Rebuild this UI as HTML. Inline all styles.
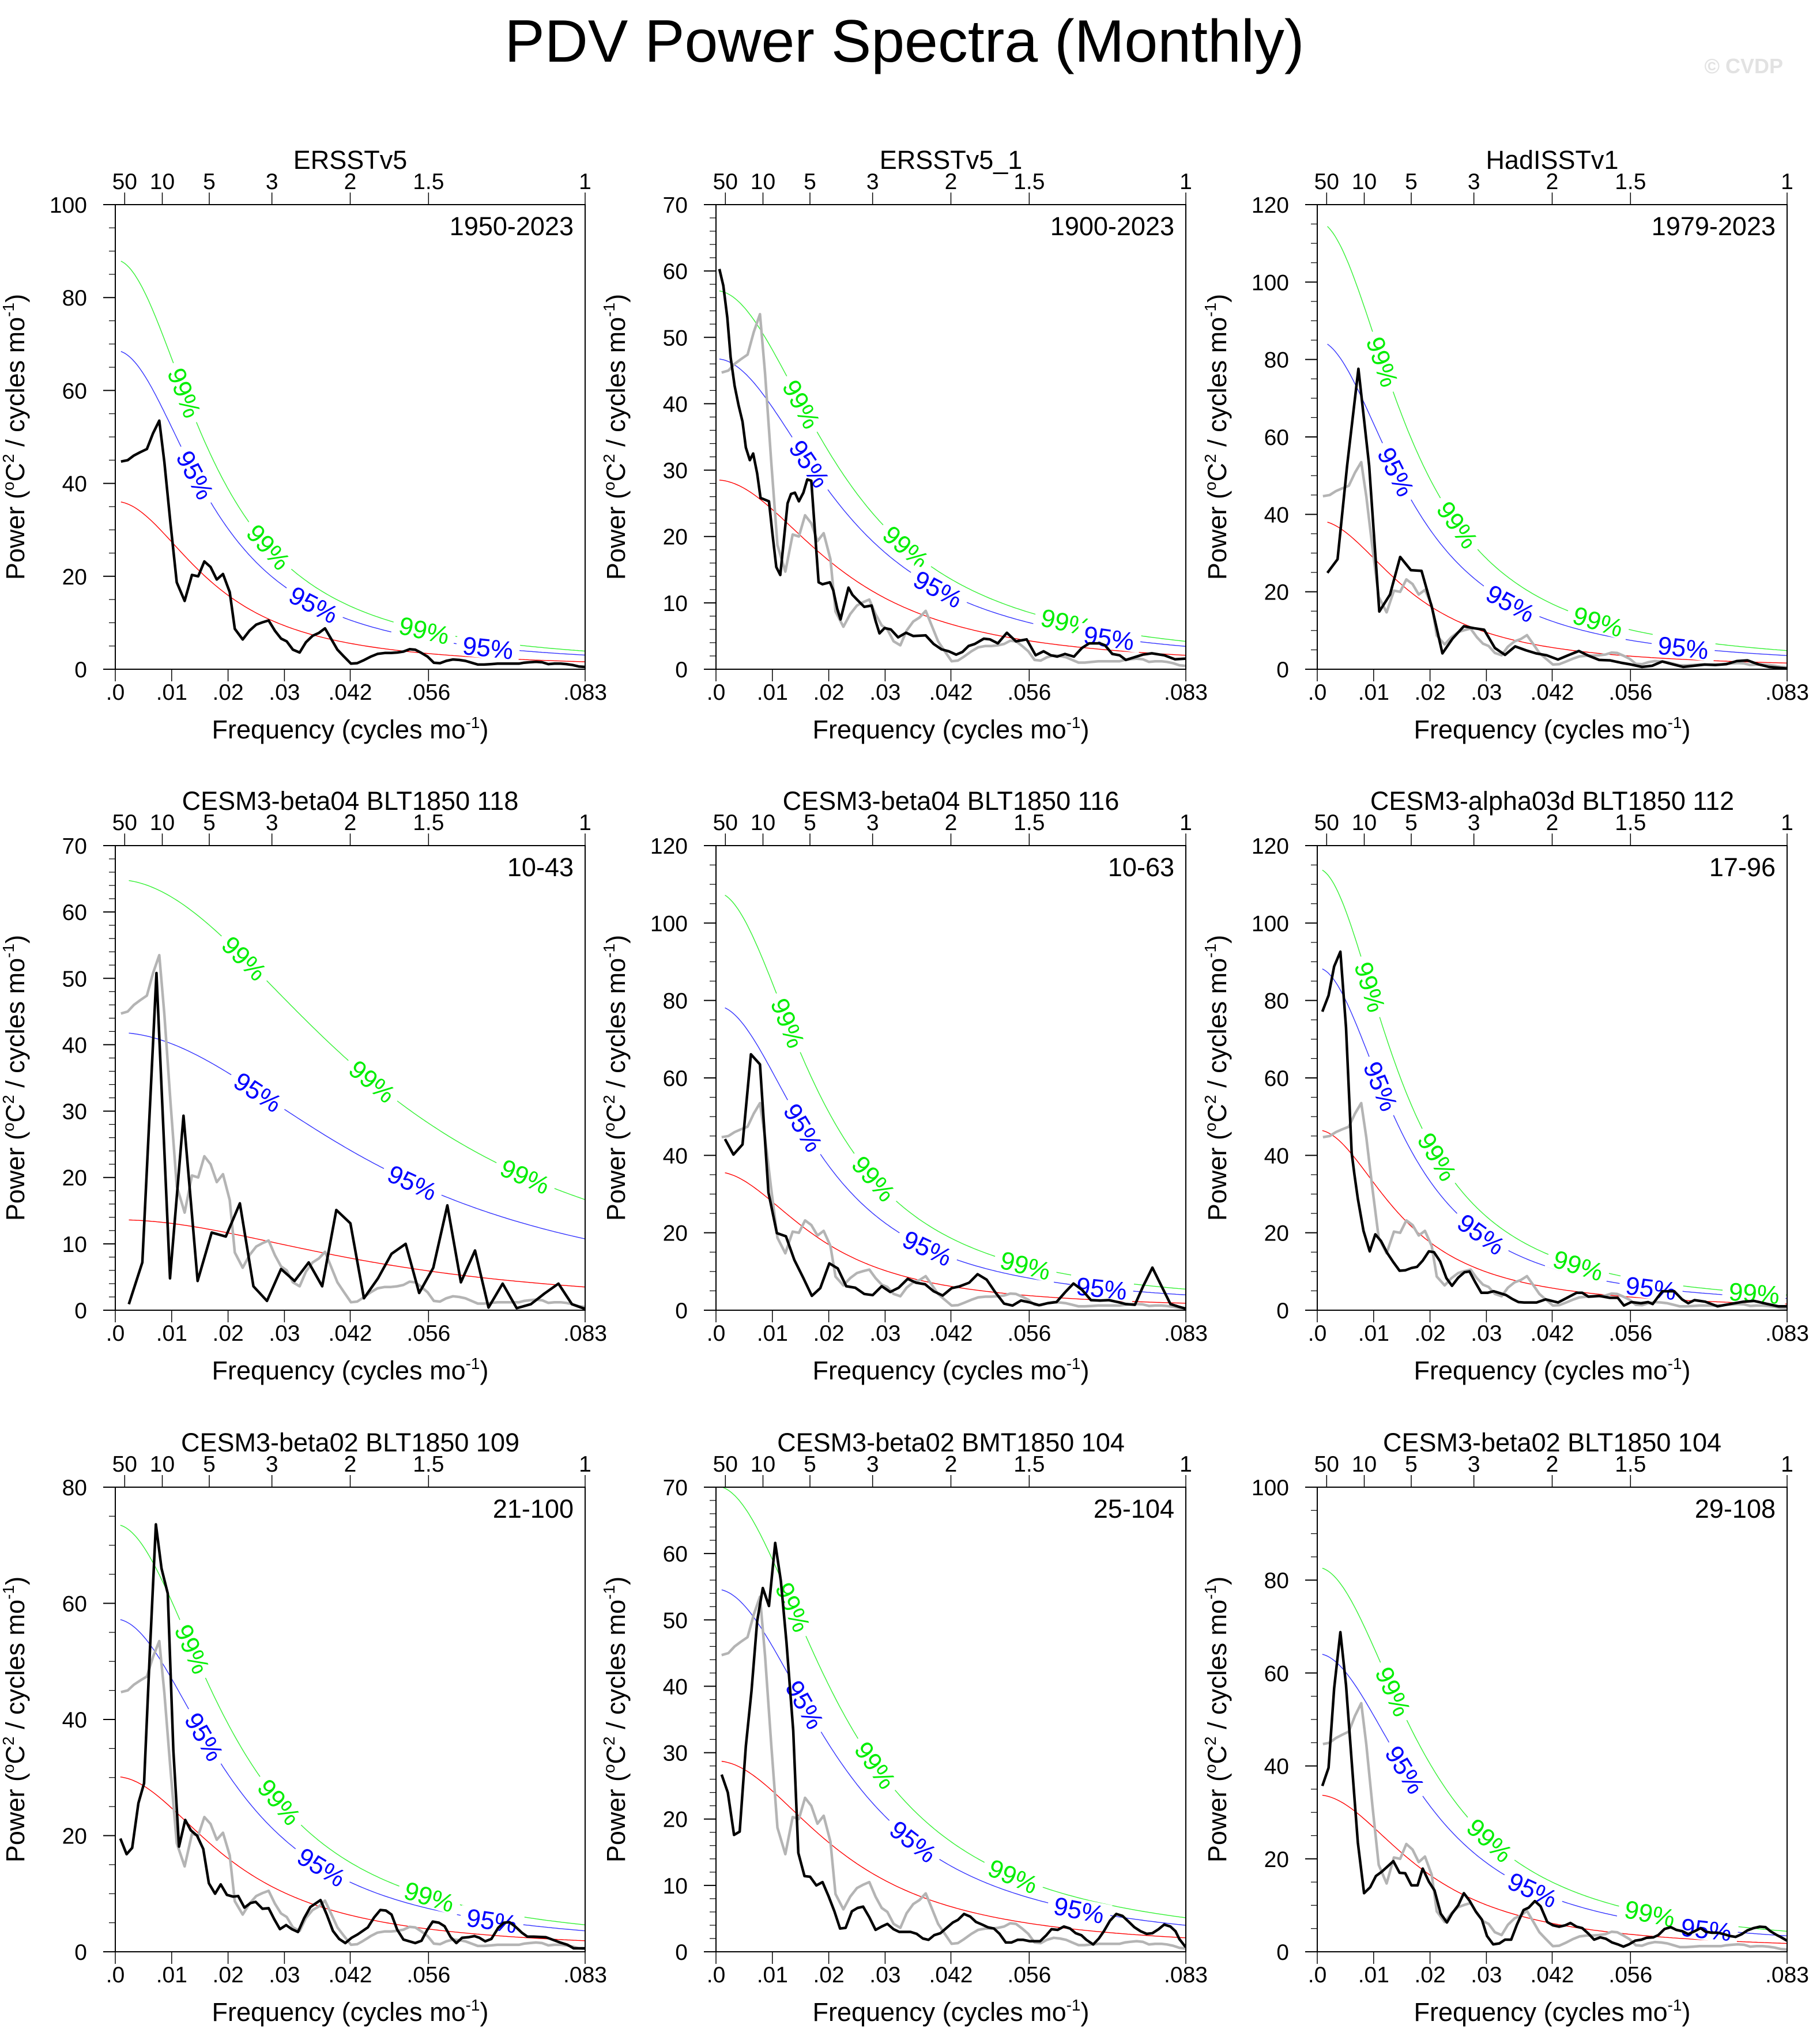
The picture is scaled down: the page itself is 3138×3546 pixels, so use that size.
<!DOCTYPE html>
<html><head><meta charset="utf-8">
<style>
html,body{margin:0;padding:0;background:#fff;}
svg{display:block;font-family:"Liberation Sans",Arial,sans-serif;}
</style></head>
<body>
<svg id="chart" width="3138" height="3546" viewBox="0 0 3138 3546" xmlns="http://www.w3.org/2000/svg">
<rect x="0" y="0" width="3138" height="3546" fill="#fff"/>
<text x="1569" y="107" font-size="104" text-anchor="middle" fill="#000">PDV Power Spectra (Monthly)</text>
<text x="3093" y="127" font-size="36" font-weight="bold" text-anchor="end" fill="#e2e2e2">© CVDP</text>
</svg>
<script>
// ---------------- data ----------------
const ersFreq = [.001,.0022,.0033,.0044,.0056,.0067,.0078,.0087,.0098,.0109,.0123,.0136,.0147,.0158,.0169,.018,.0191,.0203,.0212,.0226,.0238,.025,.0261,.0272,.0283,.0294,.0304,.0315,.0327,.0338,.035,.0361,.0372,.0383,.0394,.0405,.0418,.0429,.044,.0453,.0465,.0478,.0489,.05,.0511,.0522,.0532,.0543,.0554,.0565,.0576,.0587,.0599,.061,.0621,.0632,.0643,.0654,.0667,.0678,.0716,.0725,.0735,.0746,.0757,.0768,.0779,.079,.08,.0811,.0822,.0833];
const ersPow = [44.7,45,46,46.7,47.4,50.8,53.5,44.6,31.3,18.7,14.7,20.3,20,23.2,22,19.3,20.5,16.6,8.7,6.4,8.3,9.6,10.1,10.5,8.3,6.6,6,4.2,3.6,5.8,7.2,7.8,8.8,6.5,4.2,2.8,1.2,1.3,1.9,2.7,3.3,3.5,3.5,3.6,3.8,4.3,4.2,3.5,2.7,1.4,1.3,1.8,2.1,2,1.8,1.4,1,1,1.1,1.2,1.2,1.4,1.5,1.6,1.5,1.1,1.2,1.2,1.1,0.9,0.6,0.5];

const p2Freq = [.0006,.0013,.002,.0026,.0033,.004,.0047,.0053,.006,.0066,.0073,.0079,.0094,.01,.0107,.0114,.0127,.0133,.014,.0147,.0155,.0162,.0169,.0182,.0189,.0202,.0208,.0215,.0221,.0235,.0242,.025,.0263,.0276,.0283,.029,.0299,.031,.0323,.0337,.035,.0372,.0386,.04,.0413,.0426,.0437,.0448,.0459,.0475,.0486,.05,.0516,.0532,.0551,.0567,.0581,.0594,.0605,.0619,.0635,.0649,.0662,.0681,.069,.0703,.0716,.0727,.0757,.0773,.0795,.0814,.0833];
const p2Pow = [60.3,57.8,53,47,42.7,39.8,37.3,33.4,31.5,32.5,29.5,25.8,25.3,20.5,15.4,14.2,25,26.4,26.6,25.3,26.6,28.6,28.4,13.1,12.8,13.1,11.9,9.1,7.5,12.3,11.2,10.5,9.4,9.6,7.3,5.4,6.2,6,4.8,5.5,5,5.1,3.8,3,2.7,2.2,2.6,3.5,3.8,4.6,4.5,3.9,5.5,4.2,4.5,2.1,2.7,2.1,1.9,2.3,1.9,3.2,3.9,3.9,3.6,2.3,2.1,1.4,2.2,2.4,2.1,1.5,1.6];

const p3Freq = [.0018,.0036,.0053,.0073,.0092,.011,.0129,.0147,.0166,.0185,.0204,.0222,.024,.026,.0278,.0296,.0315,.0333,.0351,.037,.0388,.0407,.0427,.0445,.0464,.0481,.05,.0519,.0538,.0557,.0576,.0594,.0612,.063,.0649,.0668,.0687,.0706,.0725,.0744,.0763,.0782,.0801,.0833];
const p3Pow = [24.9,28.4,52.6,77.6,52.6,14.9,19.3,29,25.6,25.4,15.6,4.1,7.9,11.1,10.6,10.2,5.5,3.7,5.9,4.9,4.1,3.6,2.5,3.6,4.7,3.5,2.4,2.3,1.7,1.2,0.6,0.9,2,1.3,0.6,0.9,1.2,1.1,1.3,2.1,2.3,1.3,0.6,0.2];

const p4Freq = [.0024,.0048,.0073,.0097,.0121,.0146,.0171,.0196,.0221,.0245,.0269,.0294,.0318,.0343,.0367,.0392,.0417,.0441,.0466,.049,.0515,.0539,.0564,.0589,.0613,.0638,.0662,.0687,.0712,.0737,.0761,.0786,.081,.0833];
const p4Pow = [0.9,7.2,50.8,4.8,29.3,4.4,11.7,11.1,16.1,3.6,1.4,6.2,4.4,7.2,3.6,15.1,13.1,1.8,4.8,8.5,10,2.6,6.4,15.8,4.2,9,0.4,4,0.3,0.9,2.5,4,0.9,0.2];

const p5Freq = [.0016,.0031,.0047,.0062,.0078,.0093,.0108,.0124,.0139,.0155,.017,.0185,.0201,.0216,.0231,.0247,.0263,.0278,.0294,.0309,.0324,.034,.0355,.0371,.0386,.0402,.0418,.0431,.0449,.0464,.048,.0495,.0511,.0526,.0541,.0557,.0573,.0588,.0604,.0619,.0634,.0649,.0665,.0681,.0697,.0713,.0727,.0743,.0758,.0774,.079,.0806,.0821,.0833];
const p5Pow = [44.2,40.2,42.8,66.1,63.5,30.4,19.9,19.1,13,8.3,3.7,5.7,12.1,10.8,6.2,5.8,4.2,3.9,6.2,4.7,5.8,8.1,7.1,6.7,4.9,3.8,5.7,6.1,7.1,9.3,7.9,4.7,1.7,1.2,2.5,2,1.3,1.8,2.1,4.6,6.9,5.3,2.6,2.5,2.6,2.1,1.6,1.4,6.3,11,6.3,1.6,0.9,0.4];

const p6Freq = [.0009,.002,.003,.0041,.0051,.0061,.0066,.0072,.0082,.0093,.0103,.0113,.0124,.0135,.0146,.0156,.0167,.0177,.0187,.0198,.0207,.0218,.0229,.0239,.025,.0261,.027,.028,.0291,.0302,.0313,.0324,.0335,.0346,.0357,.0367,.0389,.0405,.0427,.0443,.046,.047,.0481,.05,.0519,.0533,.0544,.0557,.0574,.0587,.0595,.0612,.0633,.0647,.0658,.0669,.0688,.071,.0732,.0756,.0775,.0799,.0818,.0833];
const p6Pow = [77.1,81.3,88.8,92.6,73,40.6,35,28.8,20.5,15.2,19.6,17.9,14.8,12.4,10.2,10.3,10.9,11.2,12.8,15.2,15,12.6,8.3,6.3,8.4,9.8,10,7.3,4.5,4.5,4.9,4.4,3.9,2.9,2.1,2,2,2.8,2,3.2,4.5,4.5,3.5,3.7,3.2,3.2,1.2,2.1,1.8,2.1,1.6,4.9,4.9,2.8,1.8,2.6,2.2,1,1.6,2.2,2.4,1.6,1,1];

const p7Freq = [.0009,.002,.003,.0041,.0051,.0061,.0072,.0082,.0093,.0103,.0113,.0124,.0134,.0145,.0156,.0166,.0177,.0187,.0198,.0209,.0218,.0229,.024,.0249,.0261,.0272,.0282,.0292,.0303,.0313,.0324,.0335,.0346,.0364,.0375,.0386,.0397,.0408,.0419,.043,.0448,.0459,.047,.048,.049,.05,.0511,.0532,.0543,.0553,.0563,.0574,.0584,.0595,.0605,.0615,.0626,.0637,.0646,.0656,.0667,.0679,.0689,.0699,.071,.0721,.0731,.0742,.0764,.0775,.0789,.0802,.0813,.0833];
const p7Pow = [19.5,16.8,17.9,25.6,29,51.1,73.6,66,61.7,34.7,18.1,22.7,20.9,20,17.7,11.8,10,11.6,9.8,9.5,9.6,7.6,8.4,8.6,7.4,7.5,5.6,3.9,4.6,3.9,3.4,5.8,7.7,8.9,6.4,3.6,2.2,1.5,2.4,3,4.2,5.9,7.2,7.1,6.4,3.8,2.1,1.5,1.9,3.7,5.2,5,4.4,2.5,1.5,2.4,2.5,2.7,2.4,1.8,2.2,4.1,5,5.1,4.3,3.3,2.6,2.6,2.5,2.1,1.6,1.2,0.6,0.6];

const p8Freq = [.001,.0021,.0032,.0042,.0053,.0063,.0073,.0083,.0094,.0105,.0115,.0125,.0137,.0146,.0157,.0167,.0178,.0189,.02,.021,.022,.023,.0241,.0251,.0261,.0272,.0283,.0294,.0304,.0315,.0325,.0345,.0356,.0367,.0377,.0387,.0398,.0409,.042,.0429,.044,.0451,.0461,.0472,.0482,.0493,.0503,.0514,.0524,.0535,.0545,.0556,.0575,.0586,.0595,.0606,.0617,.0628,.0638,.0648,.0657,.0669,.0679,.0688,.0699,.071,.0721,.0731,.0742,.0753,.0764,.0774,.0785,.0795,.0806,.0815,.0822,.0833];
const p8Pow = [26.7,24,17.6,18.1,31,39.3,49.8,54.8,52.1,61.6,55.9,46.6,33.3,14.9,11.4,11.3,10,10.5,8.3,6.1,3.5,3.6,6.1,6.6,6.8,5.2,3.3,3.8,4.2,3.4,3,3,2.7,2,1.8,2.5,2.8,3.6,4.4,4.8,5.7,5.3,4.5,4.1,3.7,3.5,2.7,1.4,1.4,1.8,1.8,1.6,1.6,2.5,3.4,3.3,3.8,3.5,2.8,2.5,1.8,1.1,2,3.1,4.7,5.7,5.4,4.6,3.7,3.1,2.7,2.8,3.4,4.1,3.8,3.1,1.9,0.7];

const p9Freq = [.0009,.002,.003,.0041,.0051,.0061,.0072,.0083,.0094,.0104,.0114,.0125,.0135,.0146,.0156,.0167,.0178,.0187,.0198,.0208,.0219,.023,.0239,.025,.026,.027,.0281,.0292,.0301,.0312,.0323,.0333,.0344,.0354,.0366,.0375,.0386,.0396,.0408,.0418,.0429,.044,.0449,.046,.047,.0481,.0491,.0502,.0512,.0523,.0533,.0543,.0553,.0564,.0575,.0584,.0596,.0605,.0616,.0627,.0637,.0648,.0658,.0669,.068,.0689,.07,.0711,.0721,.0732,.0742,.0753,.0763,.0774,.0785,.0795,.0804,.0815,.0823,.0833];
const p9Pow = [35.7,39.6,56.7,68.8,57.4,41,23.5,12.6,13.9,16.3,17.2,18.4,19.5,17,16.9,14.3,14.3,17.9,15.1,13.2,8.2,6.3,8.2,10,12.6,11,8.7,6.9,3.4,1.6,1.8,2.6,2.6,5.8,9,9.5,10.9,9.8,6.4,5.7,5.4,5.7,6.2,5.4,5.1,3.9,2.6,3.1,2.8,2,1.6,1.1,1.6,2.4,2.6,3,3.1,3.6,4.9,5.3,4.7,4.4,3.8,4.4,5.1,4.3,4.1,4.1,3.8,3.4,3.2,3.8,4.6,5.1,5.4,5.3,4.4,3.6,3.1,2.4];

const panelTitles = ["ERSSTv5","ERSSTv5_1","HadISSTv1","CESM3-beta04 BLT1850 118","CESM3-beta04 BLT1850 116","CESM3-alpha03d BLT1850 112","CESM3-beta02 BLT1850 109","CESM3-beta02 BMT1850 104","CESM3-beta02 BLT1850 104"];
const panelPeriods = ["1950-2023","1900-2023","1979-2023","10-43","10-63","17-96","21-100","25-104","29-108"];
const yMaxes = [100,70,120,70,120,120,80,70,100];
const yMajor = [20,10,20,10,20,20,20,10,20];
const yMinor = [5,2,5,2,5,5,5,2,5];
const redStart = [36,28.5,38,13.6,35.5,46.4,30.1,28.7,33.7];
const redEnd = [1.6,2.1,1.6,3.5,1.8,1.6,1.9,2.1,1.8];
const mult95 = [1.9,1.64,2.21,3.07,2.2,1.9,1.9,1.9,1.9];
const mult99 = [2.44,2.0,3.01,4.76,3.02,2.45,2.44,2.44,2.45];
const label99Freq = [[.0123,.0272,.0548],[.0152,.0337,.0621],[.0116,.0249,.0498],[.0229,.0456,.0727],[.0128,.028,.0549],[.0094,.0213,.0463,.0775],[.0137,.0291,.0557],[.0137,.0283,.0527],[.0135,.0306,.059]];
const label95Freq = [[.0142,.0352,.0661],[.0166,.0394,.0697],[.014,.0343,.0649],[.0253,.0527],[.0155,.0375,.0684],[.0113,.0291,.0592],[.0158,.0366,.0668],[.0158,.035,.0644],[.0156,.0382,.069]];
const blackFreqs = [ersFreq,p2Freq,p3Freq,p4Freq,p5Freq,p6Freq,p7Freq,p8Freq,p9Freq];
const blackPows = [ersPow,p2Pow,p3Pow,p4Pow,p5Pow,p6Pow,p7Pow,p8Pow,p9Pow];
const showGrey = [false,true,true,true,true,true,true,true,true];
const bottomTickFreq = [0,.01,.02,.03,1/24,1/18,1/12];
const bottomTickLabels = [".0",".01",".02",".03",".042",".056",".083"];
const topTickPeriods = [50,10,5,3,2,1.5,1];
const topTickLabels = ["50","10","5","3","2","1.5","1"];

// ---------------- layout ----------------
const NS = "http://www.w3.org/2000/svg";
const svg = document.getElementById('chart');
const colLeft = [200,1242,2285], rowTop = [355,1467,2580];
const PW = 815, PH = 806, FMAX = 1/12;

function el(tag, attrs, parent){
  const e = document.createElementNS(NS, tag);
  for (const k in attrs) e.setAttribute(k, attrs[k]);
  (parent||svg).appendChild(e);
  return e;
}
function ar1(f, r){ return 1/(1 + r*r - 2*r*Math.cos(2*Math.PI*f)); }
function solveR(f1, fe, ratio){
  let lo = 0, hi = 0.9999;
  for (let i=0;i<80;i++){
    const m=(lo+hi)/2;
    if (ar1(f1,m)/ar1(fe,m) < ratio) lo=m; else hi=m;
  }
  return (lo+hi)/2;
}

for (let p=0;p<9;p++){
  const L = colLeft[p%3], T = rowTop[Math.floor(p/3)], B = T+PH, R = L+PW;
  const ymax = yMaxes[p];
  const xs = f => L + f/FMAX*PW;
  const ys = v => B - v/ymax*PH;
  const g = el('g', {});
  
  

  const t = el('text', {x: L+PW/2, y: T-62, 'font-size': 45, 'text-anchor':'middle', fill:'#000'}, g);
  t.textContent = panelTitles[p];
  
  

  const pl = el('text', {x: R-20, y: T+53, 'font-size': 45, 'text-anchor':'end', fill:'#000'}, g);
  pl.textContent = panelPeriods[p];
  
  

  for (let v=0; v<=ymax+1e-9; v+=yMinor[p]){
    const y = ys(v);
    const major = Math.abs(v/yMajor[p]-Math.round(v/yMajor[p]))<1e-6;
    const tk = el('line', {x1: L-(major?21:11), x2: L, y1:y, y2:y, stroke:'#000', 'stroke-width': major?2:1.2}, g);
    
    
    if (major){
      const tl = el('text', {x: L-49, y: y+14, 'font-size':39, 'text-anchor':'end', fill:'#000'}, g);
      tl.textContent = String(v);
      
      
    }
  }
  bottomTickFreq.forEach((f,i)=>{
    const x = xs(f);
    const tk = el('line', {x1:x, x2:x, y1:B, y2:B+21, stroke:'#000', 'stroke-width':1.5}, g);
    
    
    const tl = el('text', {x:x, y:B+53, 'font-size':39, 'text-anchor':'middle', fill:'#000'}, g);
    tl.textContent = bottomTickLabels[i];
    
    
  });
  topTickPeriods.forEach((per,i)=>{
    const x = xs(1/(12*per));
    const tk = el('line', {x1:x, x2:x, y1:T, y2:T-21, stroke:'#000', 'stroke-width':1.5}, g);
    
    
    const tl = el('text', {x:x, y:T-27, 'font-size':39, 'text-anchor':'middle', fill:'#000'}, g);
    tl.textContent = topTickLabels[i];
    
    
  });
  const xt = el('text', {x: L+PW/2, y: B+120, 'font-size':45, 'text-anchor':'middle', fill:'#000'}, g);
  xt.innerHTML = 'Frequency (cycles mo<tspan font-size="28" dy="-18">-1</tspan><tspan dy="18">)</tspan>';
  
  
  const cy = T+PH/2, cx = L-158;
  const yt = el('text', {x: cx, y: cy, 'font-size':45, 'text-anchor':'middle', fill:'#000', transform:`rotate(-90 ${cx} ${cy})`}, g);
  yt.innerHTML = 'Power (<tspan font-size="28" dy="-18">o</tspan><tspan dy="18">C</tspan><tspan font-size="28" dy="-18">2</tspan><tspan dy="18"> / cycles mo</tspan><tspan font-size="28" dy="-18">-1</tspan><tspan dy="18">)</tspan>';
  
  

  const cp = el('clipPath', {id:'clip'+p}, g);
  el('rect', {x:L, y:T, width:PW, height:PH}, cp);
  const plot = el('g', {'clip-path':`url(#clip${p})`}, g);

  const fr = blackFreqs[p];
  const f1 = fr[0];
  const r = solveR(f1, FMAX, redStart[p]/redEnd[p]);
  const A = redStart[p]/ar1(f1, r);
  const red = f => A*ar1(f, r);
  const curveDefs = [[1,'#ff0000','red-noise-curve'],[mult95[p],'#0000ff','conf-95-curve'],[mult99[p],'#00ee00','conf-99-curve']];
  curveDefs.forEach(cd=>{
    let d='';
    for (let i=0;i<=240;i++){
      const f = f1 + (FMAX-f1)*i/240;
      d += (i?'L':'M') + xs(f).toFixed(1) + ',' + ys(red(f)*cd[0]).toFixed(1);
    }
    const path = el('path', {d:d, fill:'none', stroke:cd[1], 'stroke-width':1.4, opacity: cd[0]===1?1:0.8}, plot);
    
    
  });
  const labelSets = [[label99Freq[p], mult99[p], '#00ee00', '99%', 'label-99'],[label95Freq[p], mult95[p], '#0000ff', '95%', 'label-95']];
  labelSets.forEach(ls=>{
    ls[0].forEach(f=>{
      const x = xs(f), y = ys(red(f)*ls[1]);
      const df = 0.0008;
      const dx = xs(f+df)-xs(f-df), dy = ys(red(f+df)*ls[1]) - ys(red(f-df)*ls[1]);
      const ang = Math.atan2(dy, dx)*180/Math.PI;
      const bg = el('rect', {x:x-55, y:y-19, width:110, height:38, fill:'#fff', transform:`rotate(${ang} ${x} ${y})`}, plot);
      
      
      const tx = el('text', {x:x, y:y+16, 'font-size':44, 'text-anchor':'middle', fill:ls[2], transform:`rotate(${ang} ${x} ${y})`}, plot);
      tx.textContent = ls[3];
      
      
    });
  });
  if (showGrey[p]){
    let d='';
    ersFreq.forEach((f,i)=>{ d += (i?'L':'M') + xs(f).toFixed(1) + ',' + ys(ersPow[i]).toFixed(1); });
    const gp = el('path', {d:d, fill:'none', stroke:'#b4b4b4', 'stroke-width':4.5, 'stroke-linejoin':'round'}, plot);
    
    
  }
  const pw = blackPows[p];
  let d='';
  const n = Math.min(fr.length, pw.length);
  for (let i=0;i<n;i++) d += (i?'L':'M') + xs(fr[i]).toFixed(1) + ',' + ys(pw[i]).toFixed(1);
  const bp = el('path', {d:d, fill:'none', stroke:'#000', 'stroke-width':4.5, 'stroke-linejoin':'round'}, plot);
  
  

  const fr2 = el('rect', {x:L, y:T, width:PW, height:PH, fill:'none', stroke:'#000', 'stroke-width':2}, g);
  
  
}
</script>
</body></html>
